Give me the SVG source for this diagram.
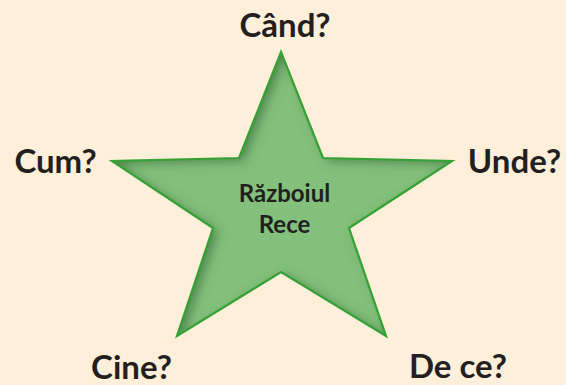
<svg xmlns="http://www.w3.org/2000/svg" width="566" height="385" viewBox="0 0 566 385">
<defs>
<filter id="inset" x="-10%" y="-10%" width="120%" height="120%">
<feComponentTransfer in="SourceAlpha" result="inv"><feFuncA type="table" tableValues="1 0"/></feComponentTransfer>
<feGaussianBlur in="inv" stdDeviation="6" result="blur"/>
<feOffset in="blur" dx="5" dy="3" result="off"/>
<feFlood flood-color="#2a5f2a" flood-opacity="0.75"/>
<feComposite in2="off" operator="in" result="col"/>
<feComposite in="col" in2="SourceAlpha" operator="in" result="sh"/>
<feMerge><feMergeNode in="SourceGraphic"/><feMergeNode in="sh"/></feMerge>
</filter>
</defs>
<style>
.lbl{font-family:Lato,"Open Sans",sans-serif;font-weight:bold;fill:#231f20;text-anchor:middle}
.big{font-size:33px}
.mid{font-size:24px}
</style>
<rect width="566" height="385" fill="#fdefd9"/>
<g id="star">
<polygon points="281,52 323,158 452,161 349,228 386,336 281,272 177,336 213,228 112,161 239,158" fill="#82c07c" filter="url(#inset)"/>
<polygon points="281,52 323,158 452,161 349,228 386,336 281,272 177,336 213,228 112,161 239,158" fill="none" stroke="#36a136" stroke-width="2.2" stroke-linejoin="miter"/>
<text class="lbl mid" x="284.5" y="202">Războiul</text>
<text class="lbl mid" x="284.5" y="233">Rece</text>
</g>
<g id="cand"><text class="lbl big" x="285" y="37">Când?</text></g>
<g id="cum"><text class="lbl big" x="55.5" y="173">Cum?</text></g>
<g id="unde"><text class="lbl big" x="514.5" y="173">Unde?</text></g>
<g id="cine"><text class="lbl big" x="131.5" y="379">Cine?</text></g>
<g id="dece"><text class="lbl big" x="458" y="378">De ce?</text></g>
<g id="connectors"/>
</svg>
